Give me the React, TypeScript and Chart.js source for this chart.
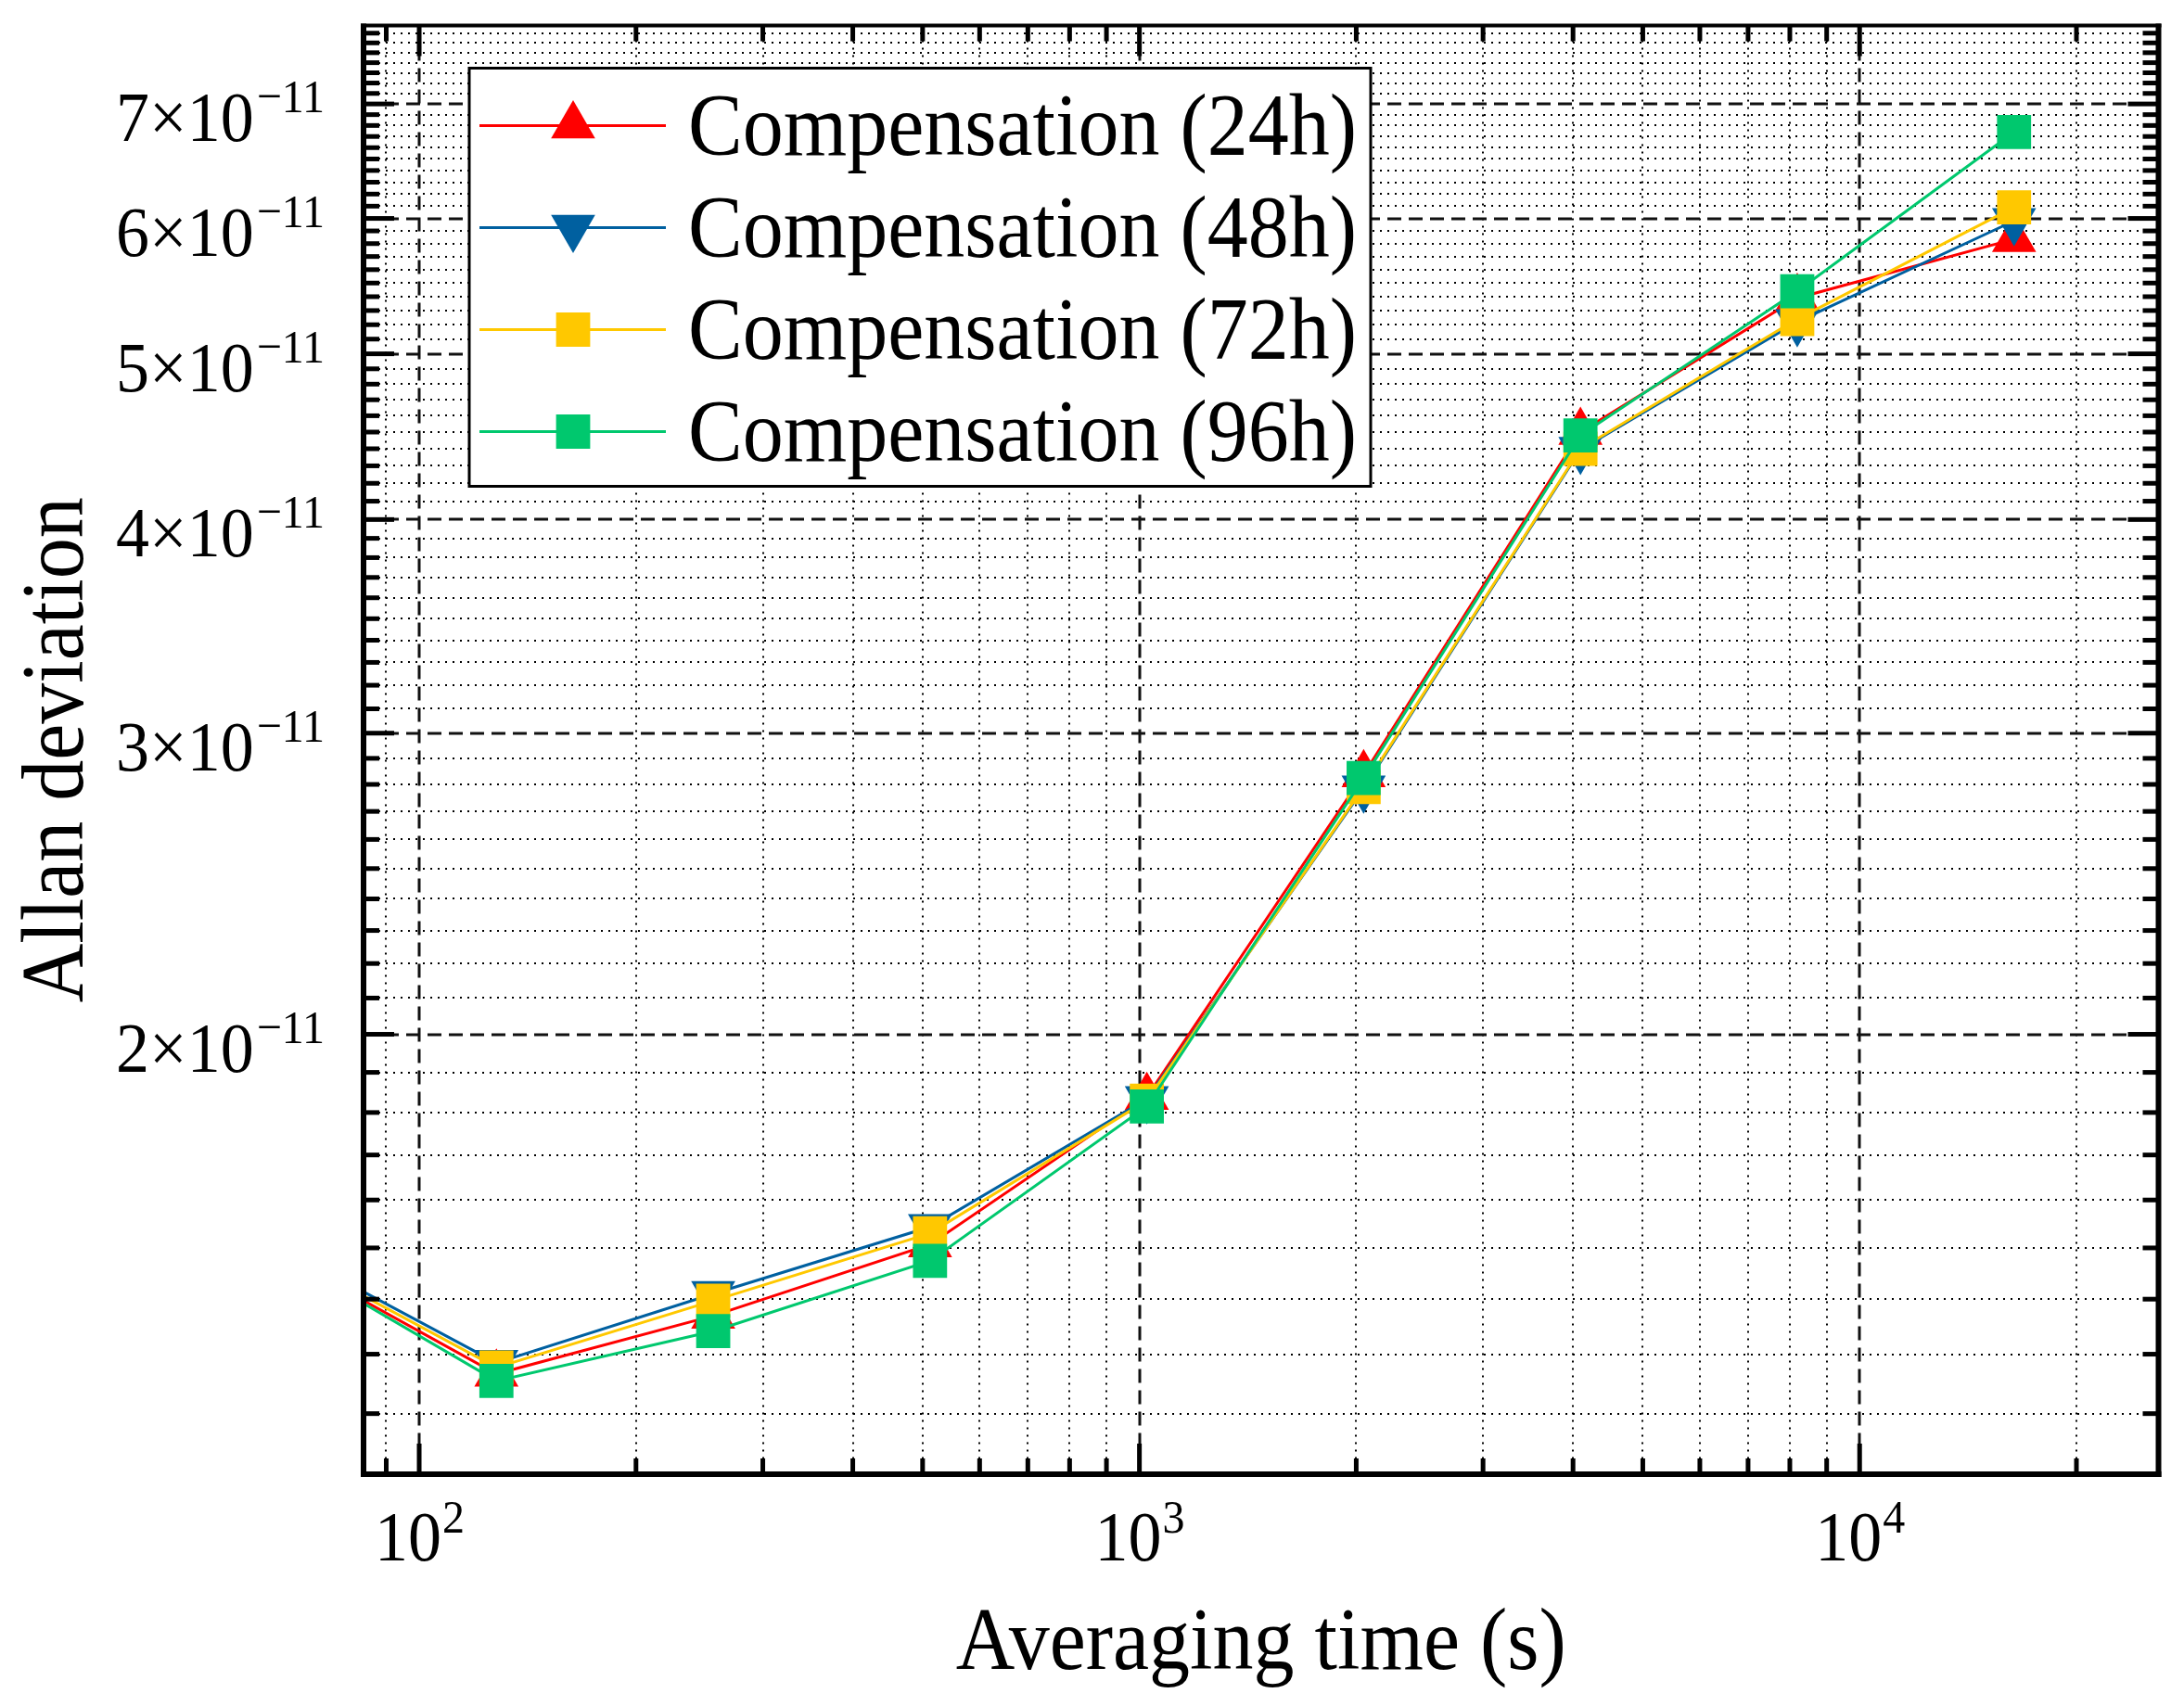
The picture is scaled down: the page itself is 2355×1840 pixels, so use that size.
import { useEffect, useRef } from 'react'
import Chart from 'chart.js/auto'

// averaging times (s); the 64 s point lies left of the visible axis range
const tau = [64, 128, 256, 512, 1024, 2048, 4096, 8192, 16384]

const comp24h = [1.487e-11, 1.266e-11, 1.369e-11, 1.507e-11, 1.838e-11, 2.838e-11, 4.5e-11, 5.39e-11, 5.835e-11]
const comp48h = [1.502e-11, 1.285e-11, 1.41e-11, 1.543e-11, 1.833e-11, 2.785e-11, 4.395e-11, 5.22e-11, 5.98e-11]
const comp72h = [1.494e-11, 1.277e-11, 1.397e-11, 1.53e-11, 1.829e-11, 2.79e-11, 4.4e-11, 5.24e-11, 6.09e-11]
const comp96h = [1.487e-11, 1.254e-11, 1.341e-11, 1.474e-11, 1.815e-11, 2.824e-11, 4.48e-11, 5.44e-11, 6.74e-11]

const seriesLabels = ['Compensation (24h)', 'Compensation (48h)', 'Compensation (72h)', 'Compensation (96h)']

const xMajorTicks = [100, 1000, 10000]
const xTickExponents = ['2', '3', '4']
const xMinorTicks = [90, 200, 300, 400, 500, 600, 700, 800, 900, 2000, 3000, 4000, 5000, 6000, 7000, 8000, 9000, 20000]

const yMajorTicks = [2e-11, 3e-11, 4e-11, 5e-11, 6e-11, 7e-11]
const yTickMantissas = ['2', '3', '4', '5', '6', '7']
const yTickExponent = '\u221211'
// minor ticks every 0.1×10^-11 between 1.2 and 7.7
const yMinorTicks = Array.from({ length: 66 }, (_, i) => 12 + i)
  .filter(n => n % 10 !== 0)
  .map(n => (n / 10) * 1e-11)

const X_MIN = 83.7
const X_MAX = 26000
const Y_MIN = 1.106e-11
const Y_MAX = 7.78e-11

const SERIF = '"Liberation Serif", "Times New Roman", serif'
const TEXT_STRETCH = 1.07 // glyphs in the figure are slightly taller than normal

const series = [
  { label: seriesLabels[0], data: comp24h, color: '#FF0000', pointStyle: 'triangle', rotation: 0, radius: 27.5 },
  { label: seriesLabels[1], data: comp48h, color: '#0060A0', pointStyle: 'triangle', rotation: 180, radius: 27.5 },
  { label: seriesLabels[2], data: comp72h, color: '#FFC800', pointStyle: 'rect', rotation: 0, radius: 26 },
  { label: seriesLabels[3], data: comp96h, color: '#00C86E', pointStyle: 'rect', rotation: 0, radius: 26 },
]

function drawMarker(ctx: CanvasRenderingContext2D, style: string, rotation: number, r: number, x: number, y: number) {
  ctx.beginPath()
  if (style === 'triangle') {
    let rad = (rotation * Math.PI) / 180
    ctx.moveTo(x + Math.sin(rad) * r, y - Math.cos(rad) * r)
    rad += (2 * Math.PI) / 3
    ctx.lineTo(x + Math.sin(rad) * r, y - Math.cos(rad) * r)
    rad += (2 * Math.PI) / 3
    ctx.lineTo(x + Math.sin(rad) * r, y - Math.cos(rad) * r)
    ctx.closePath()
  } else {
    const s = r * Math.SQRT1_2
    ctx.rect(x - s, y - s, 2 * s, 2 * s)
  }
  ctx.fill()
}

function tallText(ctx: CanvasRenderingContext2D, text: string, x: number, y: number) {
  ctx.save()
  ctx.translate(x, y)
  ctx.scale(1, TEXT_STRETCH)
  ctx.fillText(text, 0, 0)
  ctx.restore()
}

const originFrame = {
  id: 'originFrame',
  beforeDatasetsDraw(chart: any) {
    const { ctx, chartArea: a, scales } = chart
    const xs = scales.x
    const ys = scales.y
    ctx.save()
    ctx.strokeStyle = '#000'
    // minor grid: dotted
    ctx.lineWidth = 2
    ctx.setLineDash([2, 6])
    ctx.beginPath()
    xMinorTicks.forEach(v => {
      const px = Math.round(xs.getPixelForValue(v))
      ctx.moveTo(px, a.top)
      ctx.lineTo(px, a.bottom)
    })
    yMinorTicks.forEach(v => {
      const py = Math.round(ys.getPixelForValue(v))
      ctx.moveTo(a.left, py)
      ctx.lineTo(a.right, py)
    })
    ctx.stroke()
    // major grid: dashed
    ctx.strokeStyle = '#111'
    ctx.lineWidth = 3
    ctx.setLineDash([15, 8])
    ctx.beginPath()
    xMajorTicks.forEach(v => {
      const px = Math.round(xs.getPixelForValue(v))
      ctx.moveTo(px, a.top)
      ctx.lineTo(px, a.bottom)
    })
    yMajorTicks.forEach(v => {
      const py = Math.round(ys.getPixelForValue(v))
      ctx.moveTo(a.left, py)
      ctx.lineTo(a.right, py)
    })
    ctx.stroke()
    ctx.restore()
  },
  afterDatasetsDraw(chart: any) {
    const { ctx, chartArea: a, scales } = chart
    const xs = scales.x
    const ys = scales.y
    ctx.save()
    ctx.setLineDash([])
    ctx.fillStyle = '#000'

    // frame
    ctx.fillRect(a.left - 3, a.top - 2, 6, a.bottom - a.top + 5)
    ctx.fillRect(a.right - 3, a.top - 2, 6, a.bottom - a.top + 5)
    ctx.fillRect(a.left - 3, a.top - 2, a.right - a.left + 6, 4)
    ctx.fillRect(a.left - 3, a.bottom - 3, a.right - a.left + 6, 6)

    // inward ticks on all four sides
    const major = 33
    const minor = 17
    const tw = 5
    const xTick = (v: number, len: number) => {
      const px = xs.getPixelForValue(v)
      ctx.fillRect(px - tw / 2, a.bottom - len, tw, len)
      ctx.fillRect(px - tw / 2, a.top, tw, len)
    }
    const yTick = (v: number, len: number) => {
      const py = ys.getPixelForValue(v)
      ctx.fillRect(a.left, py - tw / 2, len, tw)
      ctx.fillRect(a.right - len, py - tw / 2, len, tw)
    }
    xMinorTicks.forEach(v => xTick(v, minor))
    xMajorTicks.forEach(v => xTick(v, major))
    yMinorTicks.forEach(v => yTick(v, minor))
    yMajorTicks.forEach(v => yTick(v, major))

    // tick labels
    const mainFont = `72px ${SERIF}`
    const supFont = `48px ${SERIF}`
    ctx.textBaseline = 'alphabetic'
    ctx.textAlign = 'left'
    xMajorTicks.forEach((v, i) => {
      const px = xs.getPixelForValue(v)
      ctx.font = mainFont
      const wm = ctx.measureText('10').width
      ctx.font = supFont
      const wsup = ctx.measureText(xTickExponents[i]).width
      const x0 = px - (wm + wsup) / 2
      ctx.font = mainFont
      tallText(ctx, '10', x0, a.bottom + 93)
      ctx.font = supFont
      tallText(ctx, xTickExponents[i], x0 + wm + 1, a.bottom + 63)
    })
    const labelRight = a.left - 42
    yMajorTicks.forEach((v, i) => {
      const py = ys.getPixelForValue(v)
      ctx.font = supFont
      const wsup = ctx.measureText(yTickExponent).width
      tallText(ctx, yTickExponent, labelRight - wsup, py + 9)
      ctx.font = mainFont
      const main = `${yTickMantissas[i]}\u00D710`
      const wm = ctx.measureText(main).width
      tallText(ctx, main, labelRight - wsup - 3 - wm, py + 40)
    })

    // axis titles
    ctx.font = `88px ${SERIF}`
    ctx.textAlign = 'center'
    tallText(ctx, 'Averaging time (s)', (a.left + a.right) / 2, 1800)
    ctx.save()
    ctx.translate(89, (a.top + a.bottom) / 2)
    ctx.rotate(-Math.PI / 2)
    tallText(ctx, 'Allan deviation', 0, 0)
    ctx.restore()

    // legend box
    const lx = a.left + 114
    const ly = a.top + 46
    const lw = 972
    const lh = 451
    ctx.fillStyle = '#fff'
    ctx.fillRect(lx, ly, lw, lh)
    ctx.strokeStyle = '#000'
    ctx.lineWidth = 3
    ctx.strokeRect(lx, ly, lw, lh)
    chart.data.datasets.forEach((ds: any, i: number) => {
      const cy = ly + 62 + i * 110
      ctx.strokeStyle = ds.borderColor
      ctx.lineWidth = 3
      ctx.beginPath()
      ctx.moveTo(lx + 11, cy)
      ctx.lineTo(lx + 212, cy)
      ctx.stroke()
      ctx.fillStyle = ds.pointBackgroundColor
      drawMarker(ctx, ds.pointStyle, ds.pointRotation, ds.pointRadius, lx + 112, cy)
      ctx.fillStyle = '#000'
      ctx.font = `88px ${SERIF}`
      ctx.textAlign = 'left'
      tallText(ctx, ds.label, lx + 236, cy + 31)
    })
    ctx.restore()
  },
}

export default function App() {
  const canvasRef = useRef<HTMLCanvasElement>(null)
  const chartRef = useRef<Chart | null>(null)

  useEffect(() => {
    if (!canvasRef.current) return
    if (chartRef.current) {
      chartRef.current.destroy()
      chartRef.current = null
    }

    chartRef.current = new Chart(canvasRef.current, {
      type: 'line',
      data: {
        datasets: series.map((s, i) => ({
          label: s.label,
          data: tau.map((t, j) => ({ x: t, y: s.data[j] })),
          borderColor: s.color,
          backgroundColor: s.color,
          borderWidth: 3,
          pointStyle: s.pointStyle as any,
          pointRotation: s.rotation,
          pointRadius: s.radius,
          pointBackgroundColor: s.color,
          pointBorderWidth: 0,
          tension: 0,
          fill: false,
          order: series.length - i,
        })),
      },
      options: {
        responsive: false,
        devicePixelRatio: 1,
        animation: false,
        events: [],
        layout: { padding: { left: 392, right: 24, top: 23, bottom: 250 } },
        plugins: {
          legend: { display: false },
          tooltip: { enabled: false },
        },
        scales: {
          x: { type: 'logarithmic', min: X_MIN, max: X_MAX, display: false },
          y: { type: 'logarithmic', min: Y_MIN, max: Y_MAX, display: false },
        },
      },
      plugins: [originFrame],
    })

    return () => {
      chartRef.current?.destroy()
      chartRef.current = null
    }
  }, [])

  return (
    <div style={{ position: 'absolute', left: 0, top: 0, width: 2355, height: 1840, background: '#fff' }}>
      <canvas ref={canvasRef} width={2355} height={1840} style={{ display: 'block' }} />
    </div>
  )
}
